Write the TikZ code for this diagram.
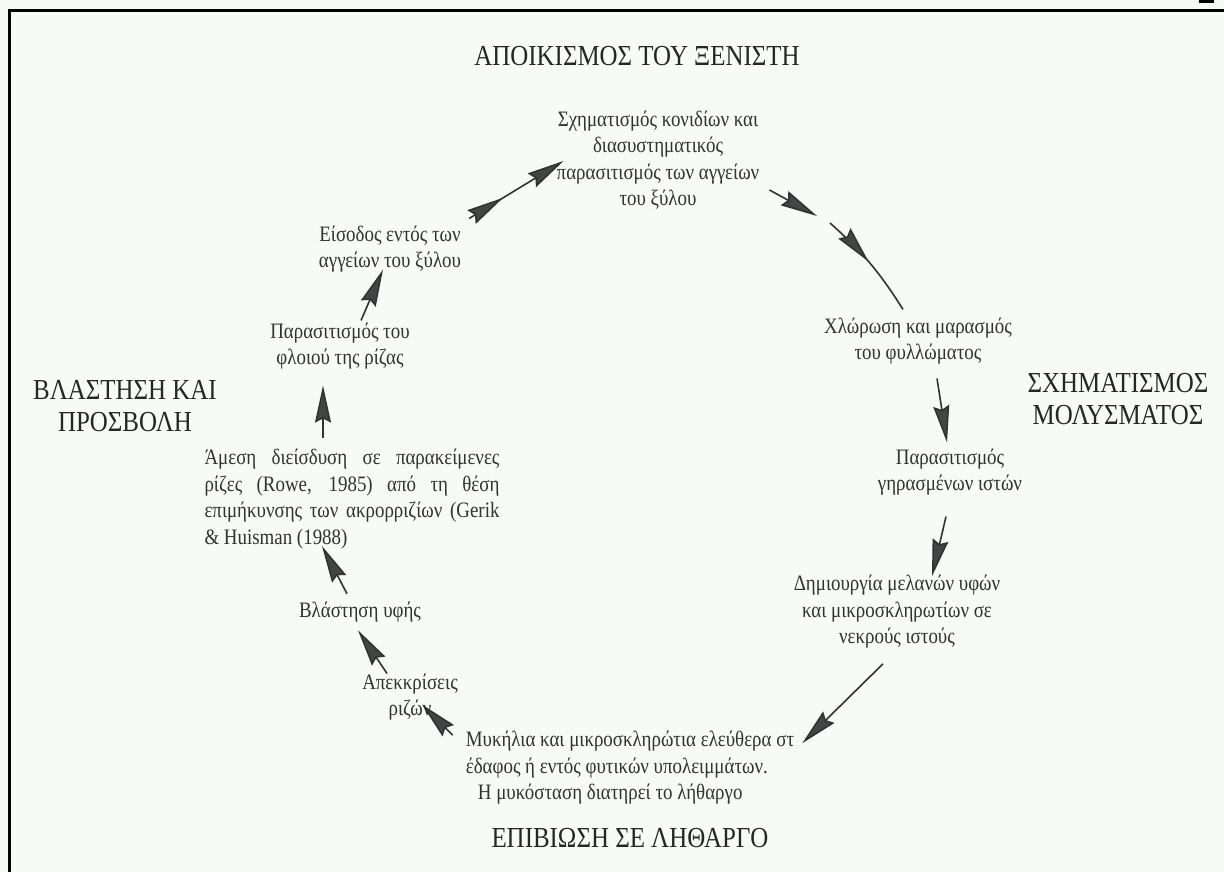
\documentclass[tikz,border=0pt]{standalone}
\usepackage{fontspec}
\setmainfont{Liberation Serif}[FakeStretch=0.86]
\usetikzlibrary{arrows.meta,decorations.markings,calc}
\definecolor{bg}{RGB}{247,250,247}
\definecolor{ink}{RGB}{50,50,50}
\definecolor{headfill}{RGB}{68,70,70}
\tikzset{
  txt/.style={font=\fontsize{22}{26.5}\selectfont, text=ink, align=center, inner sep=0pt},
  ttl/.style={font=\fontsize{29}{32}\selectfont, text=black!85, align=center, inner sep=0pt},
  arr/.style={draw=ink, line width=1.6pt, -{Stealth[length=37pt,width=16pt,inset=4pt,fill=headfill]}},
  plain/.style={draw=ink, line width=1.6pt},
  midhead/.style={postaction={decorate}, decoration={markings, mark=at position #1 with {\arrow{Stealth[length=37pt,width=16pt,inset=4pt,fill=headfill]}}}}
}
\begin{document}
\begin{tikzpicture}[x=1pt,y=-1pt]
\fill[bg] (0,0) rectangle (1224,872);
\useasboundingbox (0,0) rectangle (1224,872);
% frame
\draw[line width=3pt] (9.5,872) -- (9.5,10.5) -- (1224,10.5);
\fill (1199,0) rectangle (1214,3);

% titles
\node[ttl] (t1) at (637,56) {ΑΠΟΙΚΙΣΜΟΣ ΤΟΥ ΞΕΝΙΣΤΗ};
\node[ttl] (t2) at (1118,399) {ΣΧΗΜΑΤΙΣΜΟΣ\\ΜΟΛΥΣΜΑΤΟΣ};
\node[ttl] (t3) at (630,838) {ΕΠΙΒΙΩΣΗ ΣΕ ΛΗΘΑΡΓΟ};
\node[ttl] (t4) at (125,406) {ΒΛΑΣΤΗΣΗ ΚΑΙ\\ΠΡΟΣΒΟΛΗ};

% stages
\node[txt] (A) at (658,160) {Σχηματισμός κονιδίων και\\διασυστηματικός\\παρασιτισμός των αγγείων\\του ξύλου};
\node[txt] (B) at (918,341) {Χλώρωση και μαρασμός\\του φυλλώματος};
\node[txt] (C) at (950,472) {Παρασιτισμός\\γηρασμένων ιστών};
\node[txt] (D) at (897,612) {Δημιουργία μελανών υφών\\και μικροσκληρωτίων σε\\νεκρούς ιστούς};
\node[txt, align=left] (E) at (630,768) {Μυκήλια και μικροσκληρώτια ελεύθερα στ\\έδαφος ή εντός φυτικών υπολειμμάτων.\\\hspace*{12pt}Η μυκόσταση διατηρεί το λήθαργο};
\node[txt] (F) at (410,697) {Απεκκρίσεις\\ριζών};
\node[txt] (G) at (360,612) {Βλάστηση υφής};
\node[txt, align=left] (H) at (352,499) {\makebox[295pt][s]{Άμεση διείσδυση σε παρακείμενες}\\\makebox[295pt][s]{ρίζες (Rowe, 1985) από τη θέση}\\\makebox[295pt][s]{επιμήκυνσης των ακρορριζίων (Gerik}\\\& Huisman (1988)};
\node[txt] (I) at (340,346) {Παρασιτισμός του\\φλοιού της ρίζας};
\node[txt] (J) at (390,249) {Είσοδος εντός των\\αγγείων του ξύλου};

% connectors
\coordinate (ab) at (817,216);
\coordinate (ab2) at (830,223);
\draw[arr, midhead=0.36] ($(J.north east)+(8,-7)$) -- ($(A.west)+(7,1)$);
\draw[arr] ($(A.east)+(10,30)$) -- (ab);
\draw[plain, midhead=0.48] (ab2) to[bend left=8] ($(B.north)+(-15,-8)$);
\draw[arr] ($(B.south)+(19,14)$) -- ($(C.north)+(-3,-6)$);
\draw[arr] ($(C.south)+(-4,21)$) -- ($(D.north)+(35,1)$);
\draw[arr] ($(D.south)+(-14,15)$) -- ($(E.north east)+(8,12)$);
\draw[arr] ($(E.north west)+(-13,4)$) -- ($(F.south)+(12,-16)$);
\draw[arr] ($(F.north)+(-23,0)$) -- ($(G.south)+(-2,8)$);
\draw[arr] ($(G.north)+(-13,-8)$) -- ($(H.south)+(-30,-3)$);
\draw[arr] ($(H.north)+(-29,-11)$) -- ($(I.south)+(-17,16)$);
\draw[arr] ($(I.north)+(21,-2)$) -- ($(J.south)+(-7,-3)$);
\end{tikzpicture}
\end{document}
